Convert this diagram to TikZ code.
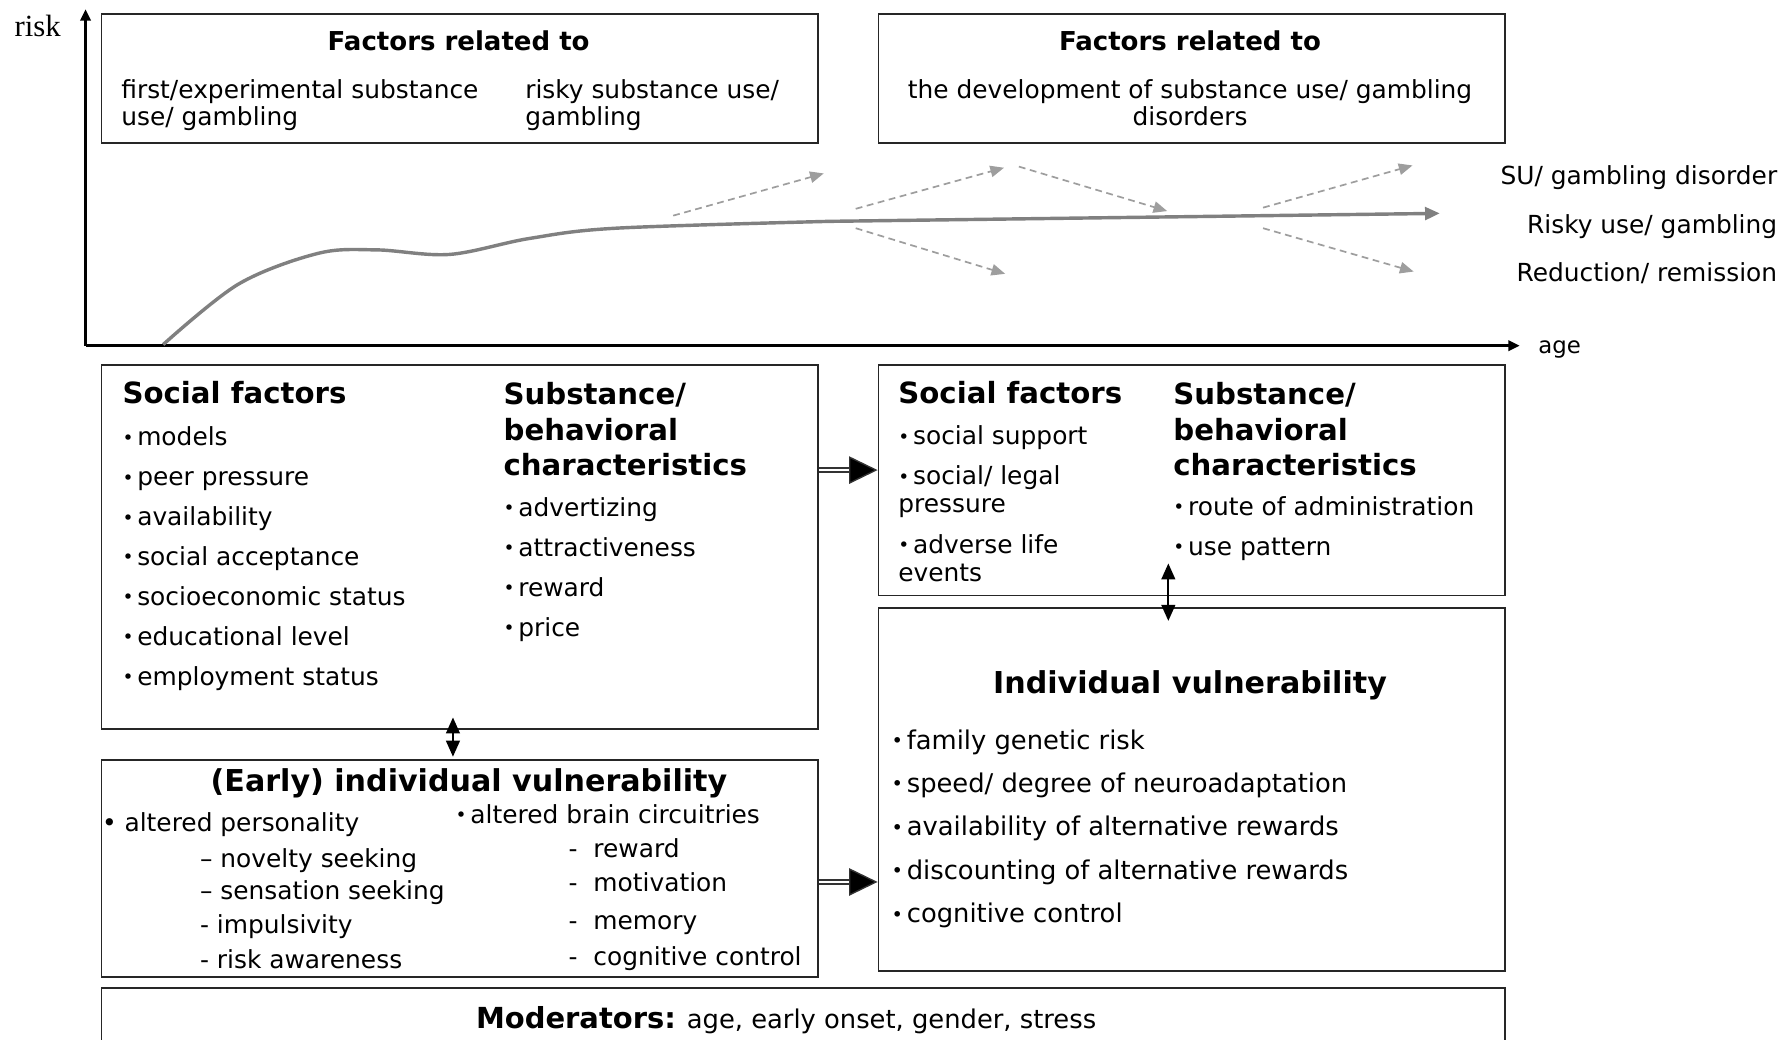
\documentclass[tikz,border=0pt]{standalone}
\usepackage{fontspec}
\setmainfont{DejaVu Sans}
\newfontfamily\riskfont{Liberation Serif}
\usetikzlibrary{arrows.meta,fit}
\newcommand{\bul}{\raisebox{0.1ex}{\scalebox{0.75}{•}}\hspace{0.15em}}

\begin{document}
\begin{tikzpicture}[
        x=0.5pt, y=-0.5pt,
        axis/.style={line width=1.2pt, -{Triangle[length=5pt,width=4.5pt]}},
        curve/.style={line width=1.5pt, black!50, -{Triangle[length=6.5pt,width=5.5pt]}},
        branch/.style={line width=0.75pt, black!38, dash pattern=on 3pt off 2pt, -{Triangle[length=6pt,width=5pt]}},
        box/.style={draw=black!85, line width=0.8pt, inner sep=0pt},
        label/.style={inner sep=0pt, align=left, font=\fontsize{10.9pt}{12.2pt}\selectfont},
        item/.style={inner sep=0pt, anchor=mid west, font=\fontsize{10.9pt}{12.2pt}\selectfont},
        bigitem/.style={item, font=\fontsize{11.3pt}{13pt}\selectfont},
        head/.style={inner sep=0pt, align=left, font=\fontsize{12.8pt}{15.5pt}\selectfont\bfseries},
        title/.style={inner sep=0pt, font=\fontsize{13.2pt}{15pt}\selectfont\bfseries},
        factor/.style={inner sep=0pt, font=\fontsize{11.4pt}{13pt}\selectfont\bfseries},
        dbl/.style={draw=black!80, line width=0.6pt, double=white, double distance=1.2pt,
          -{Triangle[length=12.5pt,width=12pt,fill=black]}},
        updown/.style={line width=0.9pt,
          {Triangle[length=7pt,width=6pt]}-{Triangle[length=7pt,width=6pt]}}
      ]
\useasboundingbox (0,0) rectangle (1568,911);

% Axes
        \coordinate (origin) at (75,303);
        \draw[axis] (origin) -- (75,8);
        \draw[axis] (origin) -- (1332,303);
        \node[inner sep=0pt, font=\riskfont\fontsize{13.5pt}{15pt}\selectfont] (risk) at (33,23) {risk};
        \node[inner sep=0pt, font=\fontsize{10pt}{12pt}\selectfont] (age) at (1367,306) {age};

% Factor boxes on top
        \node[box, fit={(89,12) (717,125)}] (topL) {};
        \node[box, fit={(770,12) (1319,125)}] (topR) {};
        \node[factor] (topLt) at (402,36) {Factors related to};
        \node[factor] (topRt) at (1043,36) {Factors related to};
        \node[label, anchor=north west] (first) at (106,69) {first/experimental substance\\use/ gambling};
        \node[label, anchor=north west] (risky) at (460,69) {risky substance use/\\gambling};
        \node[label, anchor=north, align=center] (devel) at (1043,69)
          {the development of substance use/ gambling\\disorders};

% Risk trajectory
        \draw[curve] plot[smooth, tension=0.55] coordinates
          {(143,302) (209,249) (279,222) (330,219) (394,223) (464,209) (540,200) (727,194)}
          -- (1262,187);
        \foreach \xa/\ya/\xb/\yb in {590/189/722/152, 750/183/880/147, 750/200/881/240,
            893/146/1023/185, 1107/182/1238/145, 1107/200/1239/238}
          \draw[branch] (\xa,\ya) -- (\xb,\yb);

% Outcomes
        \node[label, anchor=mid east] (sud) at (1558,156) {SU/ gambling disorder};
        \node[label, anchor=mid east] (riskyuse) at (1558,199) {Risky use/ gambling};
        \node[label, anchor=mid east] (remis) at (1558,241) {Reduction/ remission};

% Boxes
        \node[box, fit={(89,320) (717,639)}] (socL) {};
        \node[box, fit={(770,320) (1319,522)}] (socR) {};
        \node[box, fit={(770,533) (1319,851)}] (vulR) {};
        \node[box, fit={(89,666) (717,856)}] (vulL) {};
        \node[box, fit={(89,866) (1319,930)}] (moder) {};

% Early social factors
        \node[head, anchor=mid west] (socLh) at (107,348) {Social factors};
        \foreach \t [count=\i from 0] in {models, peer pressure, availability, social acceptance,
            socioeconomic status, educational level, employment status}
          \node[item] (sl\i) at (107,385+35*\i) {\bul\t};
        \node[head, anchor=north west] (subLh) at (441,335) {Substance/\\behavioral\\characteristics};
        \foreach \t [count=\i from 0] in {advertizing, attractiveness, reward, price}
          \node[item] (bl\i) at (441,447+35*\i) {\bul\t};

% Later social factors
        \node[head, anchor=mid west] (socRh) at (787,348) {Social factors};
        \node[item] (sr1) at (787,384) {\bul social support};
        \node[label, anchor=north west] (sr2) at (787,408) {\bul social/ legal\\pressure};
        \node[label, anchor=north west] (sr3) at (787,468) {\bul adverse life\\events};
        \node[head, anchor=north west] (subRh) at (1028,335) {Substance/\\behavioral\\characteristics};
        \node[item] (br1) at (1028,446) {\bul route of administration};
        \node[item] (br2) at (1028,481) {\bul use pattern};

% Individual vulnerability
        \node[title, anchor=mid] (vulRh) at (1043,602) {Individual vulnerability};
        \foreach \t [count=\i from 0] in {family genetic risk, speed/ degree of neuroadaptation,
            availability of alternative rewards, discounting of alternative rewards, cognitive control}
          \node[bigitem] (vr\i) at (781,651+38*\i) {\bul\t};

% Early individual vulnerability
        \node[title, anchor=mid] (vulLh) at (411,688) {(Early) individual vulnerability};
        \node[item] (pers) at (89,723) {• altered personality};
        \node[item] (pers1) at (175,755) {– novelty seeking};
        \node[item] (pers2) at (175,783) {– sensation seeking};
        \node[item] (pers3) at (175,813) {- impulsivity};
        \node[item] (pers4) at (175,843) {- risk awareness};
        \node[item] (brain) at (399,716) {\bul altered brain circuitries};
        \foreach \t/\y in {reward/746, motivation/776, memory/809, cognitive control/841}
          \node[item] at (498,\y) {-~~\t};

% Moderators
        \node[inner sep=0pt, font=\fontsize{11.3pt}{13pt}\selectfont] (modt) at (689,894)
          {{\fontsize{12.7pt}{14pt}\selectfont\bfseries Moderators:} age, early onset, gender, stress};

% Links
        \draw[dbl] (socL.east |- 0,412) -- (socR.west |- 0,412);
        \draw[dbl] (vulL.east |- 0,773) -- (vulR.west |- 0,773);
        \draw[updown, shorten <=-5.5pt, shorten >=1pt] (socL.south -| 397,0) -- (vulL.north -| 397,0);
        \draw[updown, shorten <=-14.5pt, shorten >=-6pt] (socR.south -| 1024,0) -- (vulR.north -| 1024,0);

      \end{tikzpicture}
\end{document}
